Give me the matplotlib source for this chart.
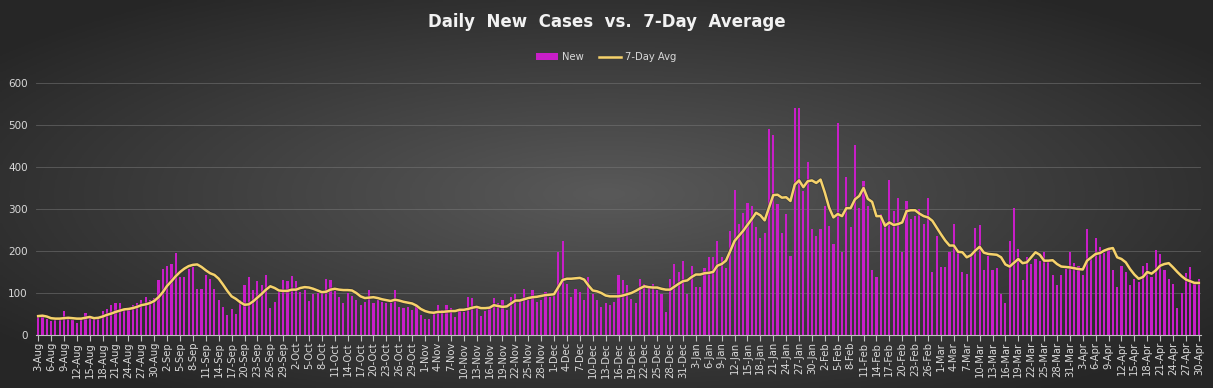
import numpy as np
import pandas as pd
import matplotlib
matplotlib.use("Agg")
import matplotlib.pyplot as plt
from matplotlib.lines import Line2D
from matplotlib.patches import Patch
import matplotlib.patheffects as pe

# daily new cases, 3-Aug .. 30-Apr
new_aug = [45, 45, 39, 33, 35, 35, 57, 37, 35, 29, 39, 53, 43, 37, 39, 58, 61, 71, 75, 76,
           63, 65, 71, 76, 84, 90, 84, 87, 130]
new_sep = [157, 165, 170, 195, 138, 139, 156, 161, 110, 110, 142, 134, 110, 84, 67, 47, 61, 49,
           83, 120, 138, 106, 128, 118, 143, 65, 79, 102, 130, 128]
new_oct = [140, 128, 102, 108, 82, 97, 100, 100, 134, 130, 105, 91, 75, 100, 94, 83, 71, 79,
           106, 75, 83, 79, 75, 75, 108, 67, 65, 67, 60, 70, 47]
new_nov = [39, 37, 55, 71, 59, 71, 65, 43, 63, 55, 90, 88, 67, 45, 57, 65, 87, 75, 84, 59,
           90, 98, 83, 110, 83, 106, 79, 83, 102, 90]
new_dec = [94, 197, 224, 122, 90, 110, 102, 83, 138, 98, 83, 67, 75, 72, 78, 142, 130, 118,
           85, 75, 134, 122, 112, 122, 106, 98, 55, 134, 170, 150, 177]
new_jan = [98, 165, 114, 114, 160, 185, 185, 224, 185, 160, 248, 346, 264, 291, 315, 307, 256,
           232, 244, 490, 475, 311, 244, 287, 189, 540, 540, 343, 413, 252, 236]
new_feb = [252, 307, 260, 217, 504, 197, 376, 256, 452, 302, 366, 307, 154, 138, 287, 268, 370,
           295, 327, 197, 319, 276, 283, 299, 264, 327, 150, 236]
new_mar = [163, 163, 197, 264, 195, 150, 146, 189, 254, 262, 155, 189, 155, 160, 98, 75, 224,
           303, 205, 130, 185, 169, 181, 177, 197, 173, 142, 118, 142, 157, 197]
new_apr = [171, 165, 142, 252, 181, 232, 209, 195, 205, 154, 114, 165, 150, 118, 134, 126, 165,
           171, 138, 202, 193, 154, 134, 122, 65, 100, 147, 163, 126, 134]

# 7-day average as drawn
avg_aug = [45, 46, 44, 40, 39, 39, 40, 41, 40, 39, 39, 41, 43, 40, 41, 44, 48, 51, 55, 58,
           61, 62, 64, 67, 71, 73, 76, 81, 90]
avg_sep = [102, 117, 128, 140, 150, 158, 164, 167, 168, 162, 154, 147, 143, 134, 120, 105, 92,
           86, 78, 72, 73, 80, 89, 98, 108, 116, 112, 106, 105, 105]
avg_oct = [108, 108, 112, 114, 113, 110, 106, 102, 103, 108, 110, 108, 107, 107, 106, 100, 92,
           88, 89, 90, 88, 85, 83, 81, 84, 82, 79, 77, 75, 70, 62]
avg_nov = [57, 54, 53, 55, 55, 56, 57, 57, 60, 60, 62, 65, 67, 64, 64, 65, 71, 69, 67, 68,
           75, 82, 82, 85, 88, 90, 91, 93, 95, 96]
avg_dec = [97, 114, 131, 134, 134, 135, 136, 132, 118, 106, 104, 100, 94, 92, 92, 92, 94, 97,
           100, 105, 111, 116, 114, 113, 113, 110, 108, 108, 115, 122, 128]
avg_jan = [130, 138, 144, 144, 147, 148, 150, 165, 169, 177, 200, 224, 236, 248, 262, 276, 291,
           285, 273, 303, 333, 334, 327, 328, 319, 358, 368, 352, 366, 368, 362]
avg_feb = [370, 339, 303, 280, 288, 283, 302, 302, 323, 331, 350, 324, 317, 283, 283, 260, 268,
           262, 264, 268, 295, 297, 297, 289, 283, 280, 272, 256]
avg_mar = [240, 225, 213, 213, 198, 197, 185, 190, 201, 210, 196, 193, 192, 191, 185, 168, 163,
           172, 181, 171, 173, 185, 197, 191, 177, 177, 178, 169, 163, 162, 161]
avg_apr = [159, 157, 156, 177, 185, 193, 195, 201, 205, 207, 185, 181, 173, 157, 144, 134, 138,
           150, 146, 154, 165, 169, 171, 161, 150, 140, 132, 128, 124, 124]

new_cases = (new_aug + new_sep + new_oct + new_nov + new_dec + new_jan + new_feb
             + new_mar + new_apr)
avg_7day = (avg_aug + avg_sep + avg_oct + avg_nov + avg_dec + avg_jan + avg_feb
            + avg_mar + avg_apr)
dates = pd.date_range("2020-08-03", "2021-04-30")
date_labels = [f"{d.day}-{d.strftime('%b')}" for d in dates]

fig = plt.figure(figsize=(12.13, 3.88), dpi=100)

# radial gradient background
bg = fig.add_axes([0, 0, 1, 1], zorder=-1)
gx, gy = np.meshgrid(np.linspace(-1, 1, 400), np.linspace(-1, 1, 130))
r = np.clip(np.sqrt(gx**2 + gy**2) / 1.25, 0, 1)
shade = 0.35 * (1 - r) + 0.15 * r
bg.imshow(np.dstack([shade, shade, shade]), aspect="auto", extent=[0, 1, 0, 1])
bg.axis("off")

ax = fig.add_axes([0.0297, 0.1366, 0.9604, 0.6495])
ax.set_facecolor("none")
x = np.arange(len(new_cases))
ax.bar(x, new_cases, width=0.5, color="#C81EC8", zorder=2)
ax.plot(x, avg_7day, color="#F6D26B", lw=1.8, zorder=3,
        path_effects=[pe.Stroke(linewidth=3, foreground="#2a2a2a", alpha=0.45), pe.Normal()])

ax.set_xlim(-0.5, len(x) - 0.5)
ax.set_ylim(0, 600)
ax.set_yticks(range(0, 601, 100))
ax.grid(axis="y", color="#7a7a7a", lw=0.6, alpha=0.6, zorder=0)
ax.set_xticks(x[::3])
ax.set_xticklabels(date_labels[::3], rotation=90, fontsize=7.2, color="#D9D9D9")
ax.tick_params(axis="y", length=0, labelsize=7.5, labelcolor="#D9D9D9", pad=6)
ax.tick_params(axis="x", length=4, color="#BFBFBF", pad=1)
for s in ["top", "right", "left"]:
    ax.spines[s].set_visible(False)
ax.spines["bottom"].set_color("#BFBFBF")

fig.text(0.5, 0.943, "Daily  New  Cases  vs.  7-Day  Average", ha="center", va="center",
         fontsize=12, fontweight="bold", color="#F2F2F2")

handles = [Patch(facecolor="#C81EC8", label="New"),
           Line2D([0], [0], color="#F6D26B", lw=1.8, label="7-Day Avg")]
fig.legend(handles=handles, loc="center", bbox_to_anchor=(0.5, 0.853), ncol=2, frameon=False,
           fontsize=7.2, labelcolor="#D9D9D9", handlelength=2.2, columnspacing=1.5,
           handletextpad=0.4)

fig.savefig("out.png", dpi=100)
